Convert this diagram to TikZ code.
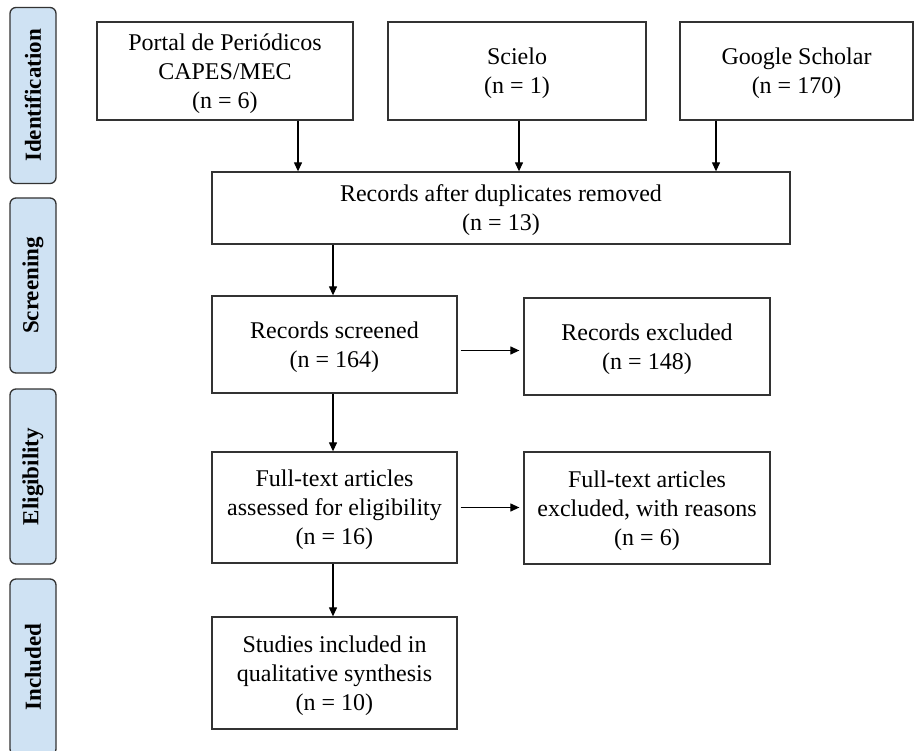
\documentclass[tikz,border=0pt]{standalone}
\usepackage{fontspec}
\setmainfont{Liberation Serif}
\usetikzlibrary{arrows.meta}
\definecolor{stageBlue}{HTML}{CFE2F3}
\definecolor{lineGray}{HTML}{333333}
\tikzset{
  box/.style={draw=lineGray, line width=1.3pt, align=center, inner sep=0pt, text depth=-3pt,
    font=\fontsize{24}{29}\selectfont},
  stage/.style={draw=lineGray, fill=stageBlue, line width=1.3pt, rounded corners=6pt,
    rotate=90, minimum height=46pt, inner sep=0pt, font=\bfseries\fontsize{23}{27}\selectfont},
  arr/.style={draw=black, line width=1.2pt, -{Triangle[length=9pt,width=8pt]}}
}

\begin{document}
\begin{tikzpicture}[x=1pt, y=-1pt]
  \useasboundingbox (0,0) rectangle (915,751);

  \node[stage, minimum width=176pt] (ident) at (33,95.5) {Identification};
  \node[stage, minimum width=175pt] (screen) at (33,285.5) {Screening};
  \node[stage, minimum width=175pt] (elig) at (33,476.5) {Eligibility};
  \node[stage, minimum width=176pt] (incl) at (33,667) {Included};

  \node[box, minimum width=256pt, minimum height=98pt] (portal) at (225,71) {Portal de Periódicos\\CAPES/MEC\\(n = 6)};
  \node[box, minimum width=258pt, minimum height=98pt] (scielo) at (517,71) {Scielo\\(n = 1)};
  \node[box, minimum width=233pt, minimum height=98pt] (google) at (796.5,71) {Google Scholar\\(n = 170)};
  \node[box, minimum width=578pt, minimum height=72pt] (dup) at (501,208) {Records after duplicates removed\\(n = 13)};
  \node[box, minimum width=245pt, minimum height=97pt] (screened) at (334.5,344.5) {Records screened\\(n = 164)};
  \node[box, minimum width=246pt, minimum height=97pt] (excl) at (647,346.5) {Records excluded\\(n = 148)};
  \node[box, minimum width=245pt, minimum height=111pt] (full) at (334.5,507.5) {Full-text articles\\assessed for eligibility\\(n = 16)};
  \node[box, minimum width=246pt, minimum height=112pt] (fullexcl) at (647,508) {Full-text articles\\excluded, with reasons\\(n = 6)};
  \node[box, minimum width=245pt, minimum height=112pt] (studies) at (334.5,673) {Studies included in\\qualitative synthesis\\(n = 10)};

  \coordinate (pa) at (298,0);
  \coordinate (sa) at (519,0);
  \coordinate (ga) at (716,0);
  \coordinate (da) at (333,0);

  \draw[arr] (pa |- portal.south) -- (pa |- dup.north);
  \draw[arr] (sa |- scielo.south) -- (sa |- dup.north);
  \draw[arr] (ga |- google.south) -- (ga |- dup.north);
  \draw[arr] (da |- dup.south) -- (da |- screened.north);
  \draw[arr] (da |- screened.south) -- (da |- full.north);
  \draw[arr] (da |- full.south) -- (da |- studies.north);
  \draw[arr, shorten <=3pt, shorten >=4pt] ([yshift=-6pt]screened.east) -- ([yshift=-6pt]screened.east -| excl.west);
  \draw[arr, shorten <=3pt, shorten >=4pt] (full.east) -- (full.east -| fullexcl.west);
\end{tikzpicture}
\end{document}
